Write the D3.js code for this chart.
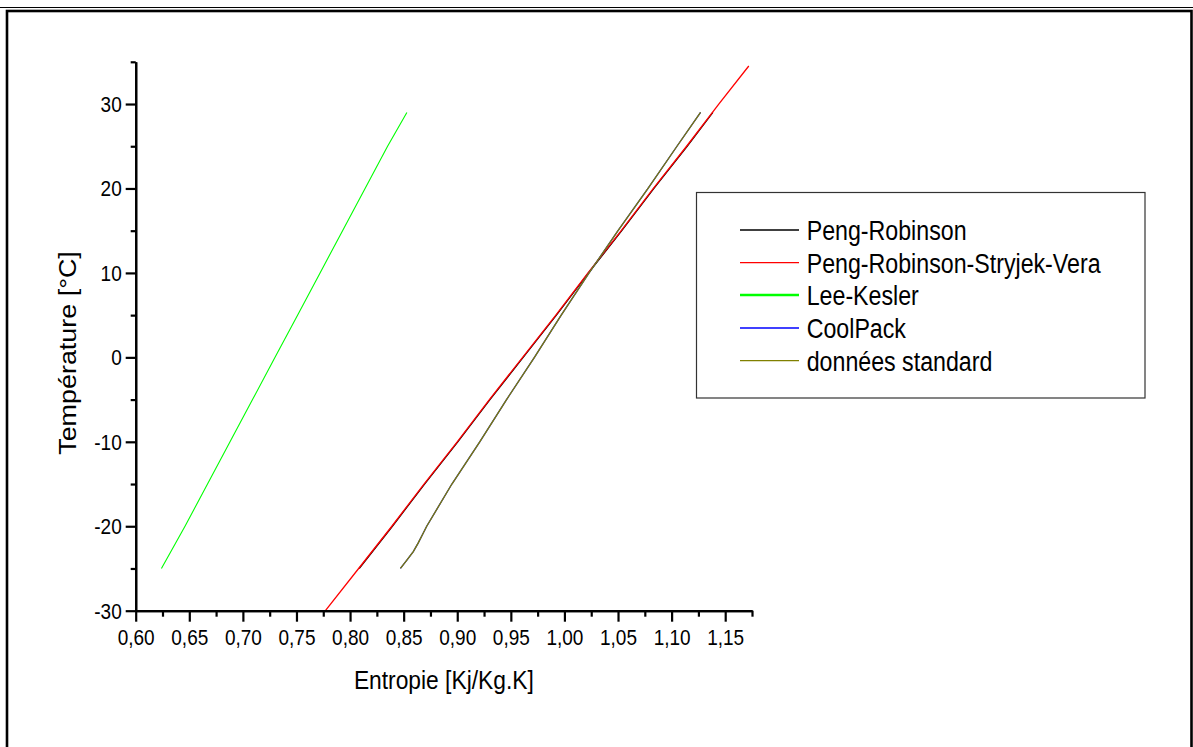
<!DOCTYPE html>
<html>
<head>
<meta charset="utf-8">
<script src="https://cdn.jsdelivr.net/npm/d3@7"></script>
<style>
  html, body { margin: 0; padding: 0; background: #fff; }
  svg { display: block; }
  text { font-family: "Liberation Sans", Arial, sans-serif; fill: #000; }
</style>
</head>
<body>
<svg id="chart" width="1193" height="747"></svg>
<script>
// ---- data ----
const seriesNames = ["Peng-Robinson", "Peng-Robinson-Stryjek-Vera", "Lee-Kesler", "CoolPack", "données standard"];
const seriesColors = ["#000000", "#ff0000", "#00ff00", "#0000ff", "#808000"];

const tempPR = [-25, -20, -15, -10, -5, 0, 5, 10, 15, 20, 25, 29];
const entropyPR = [0.8085, 0.8395, 0.8695, 0.9005, 0.9305, 0.9615, 0.9925, 1.0225, 1.0535, 1.0835, 1.1145, 1.1385];

const tempPRSV = [-30, -25, -20, -15, -10, -5, 0, 5, 10, 15, 20, 25, 30, 34.5];
const entropyPRSV = [0.777, 0.808, 0.839, 0.869, 0.900, 0.930, 0.961, 0.992, 1.022, 1.053, 1.083, 1.114, 1.144, 1.172];

const tempLK = [-25, -20, -15, -10, -5, 0, 5, 10, 15, 20, 25, 29];
const entropyLK = [0.624, 0.646, 0.667, 0.688, 0.709, 0.730, 0.751, 0.772, 0.793, 0.814, 0.835, 0.853];

const tempCP = [-25, -24, -23, -22, -21, -20, -15, -10, -5, 0, 5, 10, 15, 20, 25, 29];
const entropyCP = [0.847, 0.853, 0.859, 0.8635, 0.8675, 0.8715, 0.895, 0.921, 0.946, 0.972, 0.997, 1.023, 1.050, 1.078, 1.105, 1.127];

const tempStd = [-25, -24, -23, -22, -21, -20, -15, -10, -5, 0, 5, 10, 15, 20, 25, 29];
const entropyStd = [0.847, 0.853, 0.859, 0.8635, 0.8675, 0.8715, 0.895, 0.921, 0.946, 0.972, 0.997, 1.023, 1.050, 1.078, 1.105, 1.127];

const xMajorTicks = [0.60, 0.65, 0.70, 0.75, 0.80, 0.85, 0.90, 0.95, 1.00, 1.05, 1.10, 1.15];
const xMinorTicks = [0.625, 0.675, 0.725, 0.775, 0.825, 0.875, 0.925, 0.975, 1.025, 1.075, 1.125, 1.175];
const yMajorTicks = [-30, -20, -10, 0, 10, 20, 30];
const yMinorTicks = [-25, -15, -5, 5, 15, 25, 35];

const xTitle = "Entropie [Kj/Kg.K]";
const yTitle = "Température [°C]";

// ---- layout ----
const svg = d3.select("#chart");
const SY = 1.16; // vertical stretch of the original picture's text

const x = d3.scaleLinear().domain([0.60, 1.175]).range([135.7, 752]);
const y = d3.scaleLinear().domain([-30, 35]).range([610.7, 61.8]);

// page frame
svg.append("line").attr("x1", 0).attr("x2", 1193).attr("y1", 7.5).attr("y2", 7.5)
  .attr("stroke", "#000").attr("stroke-width", 1.2);
svg.append("rect").attr("x", 7).attr("y", 11).attr("width", 1184.5).attr("height", 800)
  .attr("fill", "none").attr("stroke", "#000").attr("stroke-width", 2.6);

// series
const series = [
  { t: tempPR, s: entropyPR },
  { t: tempPRSV, s: entropyPRSV },
  { t: tempLK, s: entropyLK },
  { t: tempCP, s: entropyCP },
  { t: tempStd, s: entropyStd }
];
const line = d3.line().x(d => x(d[0])).y(d => y(d[1]));
series.forEach((sr, i) => {
  const pts = sr.t.map((t, k) => [sr.s[k], t]);
  svg.append("path").datum(pts)
    .attr("d", line)
    .attr("fill", "none")
    .attr("stroke", seriesColors[i])
    .attr("stroke-width", i === 2 ? 1.1 : 1.3);
});

// axes
const fmt = d => d3.format(".2f")(d).replace(".", ",");
const xAxis = svg.append("g").attr("transform", `translate(0,${y(-30)})`)
  .call(d3.axisBottom(x).tickValues(xMajorTicks).tickSize(11).tickSizeOuter(0).tickFormat(fmt));
const xAxisMinor = svg.append("g").attr("transform", `translate(0,${y(-30)})`)
  .call(d3.axisBottom(x).tickValues(xMinorTicks).tickSize(6).tickSizeOuter(0).tickFormat(""));
const yAxis = svg.append("g").attr("transform", `translate(${x(0.60)},0)`)
  .call(d3.axisLeft(y).tickValues(yMajorTicks).tickSize(10).tickSizeOuter(0).tickFormat(d => String(d)));
const yAxisMinor = svg.append("g").attr("transform", `translate(${x(0.60)},0)`)
  .call(d3.axisLeft(y).tickValues(yMinorTicks).tickSize(5).tickSizeOuter(0).tickFormat(""));

[xAxis, xAxisMinor, yAxis, yAxisMinor].forEach(g => {
  g.selectAll(".domain").attr("stroke", "#000").attr("stroke-width", 2.2);
  g.selectAll(".tick line").attr("stroke", "#000").attr("stroke-width", 2.2);
});
xAxis.selectAll(".tick text")
  .attr("y", 0).attr("dy", null)
  .attr("transform", `translate(0,34.3) scale(1,${SY})`)
  .attr("text-anchor", "middle")
  .style("font-size", "19px").style("font-family", '"Liberation Sans", Arial, sans-serif');
yAxis.selectAll(".tick text")
  .attr("x", 0).attr("dy", null)
  .attr("transform", `translate(-14,7.5) scale(1,${SY})`)
  .attr("text-anchor", "end")
  .style("font-size", "19px").style("font-family", '"Liberation Sans", Arial, sans-serif');

// axis titles
svg.append("text")
  .attr("transform", `translate(${(x(0.60) + x(1.175)) / 2},689) scale(1,${SY})`)
  .attr("text-anchor", "middle")
  .style("font-size", "22.8px")
  .text(xTitle);
svg.append("text")
  .attr("transform", `translate(76,353) scale(1,${SY}) rotate(-90)`)
  .attr("text-anchor", "middle")
  .style("font-size", "23.2px")
  .text(yTitle);

// legend
const legend = svg.append("g");
legend.append("rect").attr("x", 696.5).attr("y", 192.5).attr("width", 448.5).attr("height", 205.5)
  .attr("fill", "#fff").attr("stroke", "#333").attr("stroke-width", 1.2);
const legendRows = [230, 262.7, 295, 328, 360.7];
seriesNames.forEach((name, i) => {
  legend.append("line")
    .attr("x1", 740).attr("x2", 799)
    .attr("y1", legendRows[i]).attr("y2", legendRows[i])
    .attr("stroke", seriesColors[i])
    .attr("stroke-width", i === 2 ? 2.4 : 1.3);
  legend.append("text")
    .attr("transform", `translate(806.7,${legendRows[i] + 10}) scale(1,${SY})`)
    .style("font-size", "23.2px")
    .text(name);
});
</script>
</body>
</html>
